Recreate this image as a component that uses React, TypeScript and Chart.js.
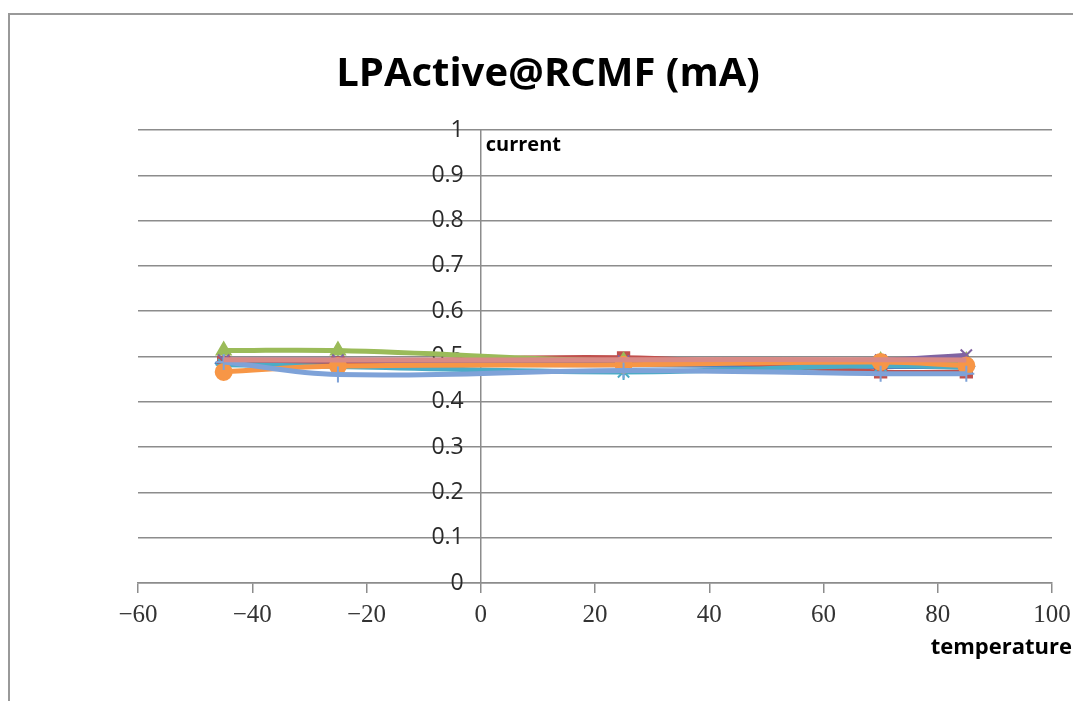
import React, { useEffect, useRef } from "react";
import { Chart, registerables } from "chart.js";

Chart.register(...registerables);

const TITLE = "LPActive@RCMF (mA)";
const X_TITLE = "temperature";
const Y_TITLE = "current";

const temperatures = [-45, -25, 25, 70, 85];

const series1 = [0.485, 0.483, 0.482, 0.478, 0.478];
const series2 = [0.487, 0.486, 0.497, 0.466, 0.466];
const series3 = [0.513, 0.513, 0.49, 0.49, 0.49];
const series4 = [0.492, 0.492, 0.49, 0.492, 0.503];
const series5 = [0.482, 0.478, 0.466, 0.48, 0.476];
const series6 = [0.466, 0.479, 0.482, 0.488, 0.48];
const series7 = [0.488, 0.46, 0.469, 0.462, 0.462];
const series8 = [0.493, 0.492, 0.493, 0.493, 0.492];

const seriesValues = [series1, series2, series3, series4, series5, series6, series7, series8];
const seriesColors = ["#4F81BD", "#C0504D", "#9BBB59", "#8064A2", "#4BACC6", "#F79646", "#7EA2D8", "#D98A86"];
const seriesMarkers: any[] = ["rectRot", "rect", "triangle", "crossRot", "star", "circle", "cross", false];

const xTicks = { min: -60, max: 100, step: 20 };
const yTicks = { min: 0, max: 1, step: 0.1 };

const textPlugin = {
  id: "extraTexts",
  beforeDraw(chart: any) {
    const ys = chart.scales.y;
    const items = ys.getLabelItems(chart.chartArea);
    if (!ys._shifted) {
      items.forEach((it: any) => {
        it.options.translation[0] -= 17;
      });
      ys._shifted = true;
    }
  },
  afterDraw(chart: any) {
    const ctx = chart.ctx;
    const xs = chart.scales.x;
    const ys = chart.scales.y;
    ctx.save();
    ctx.fillStyle = "#000";
    ctx.textBaseline = "alphabetic";
    ctx.font = 'bold 40px "Open Sans"';
    ctx.textAlign = "center";
    ctx.fillText(TITLE, 548, 86);
    ctx.font = 'bold 20px "Open Sans"';
    ctx.textAlign = "left";
    ctx.fillText(Y_TITLE, xs.getPixelForValue(0) + 5, ys.getPixelForValue(1) + 21);
    ctx.font = 'bold 22px "Open Sans"';
    ctx.textAlign = "right";
    ctx.fillText(X_TITLE, 1072, 654);
    ctx.restore();
  },
};

export default function App() {
  const ref = useRef<HTMLCanvasElement | null>(null);
  useEffect(() => {
    if (!ref.current) return;
    const n = seriesValues.length;
    const datasets = seriesValues.map((vals, i) => ({
      label: "S" + (i + 1),
      data: temperatures.map((t, j) => ({ x: t, y: vals[j] })),
      showLine: true,
      tension: 0.4,
      borderColor: seriesColors[i],
      backgroundColor: seriesColors[i],
      borderWidth: 5,
      pointStyle: seriesMarkers[i],
      pointRadius: seriesMarkers[i] ? 8 : 0,
      pointBackgroundColor: seriesColors[i],
      pointBorderColor: seriesColors[i],
      pointBorderWidth: 2,
      order: n - i,
    }));
    const chart = new Chart(ref.current, {
      type: "scatter",
      data: { datasets },
      plugins: [textPlugin],
      options: {
        animation: false,
        responsive: false,
        maintainAspectRatio: false,
        layout: { padding: { left: 138, right: 21, top: 130, bottom: 0 } },
        plugins: { legend: { display: false }, tooltip: { enabled: false }, title: { display: false } },
        scales: {
          x: {
            type: "linear",
            position: "bottom",
            min: xTicks.min,
            max: xTicks.max,
            afterFit: (s: any) => {
              s.height = 118;
              s.paddingLeft = 0;
              s.paddingRight = 0;
            },
            ticks: {
              stepSize: xTicks.step,
              maxRotation: 0,
              padding: 7,
              color: "#333",
              font: { family: '"Liberation Serif"', size: 25 },
              callback: (v: any) => (v < 0 ? "\u2212" + Math.abs(v) : String(v)),
            },
            grid: { drawOnChartArea: false, drawTicks: true, tickLength: 10, color: "#8c8c8c", lineWidth: 1.5 },
            border: { display: true, color: "#8c8c8c", width: 1.5 },
          },
          y: {
            type: "linear",
            position: { x: 0 } as any,
            min: yTicks.min,
            max: yTicks.max,
            ticks: {
              stepSize: yTicks.step,
              padding: 17,
              color: "#2a2a2a",
              font: { family: '"Open Sans"', size: 23 },
              callback: (v: any) => String(Math.round(v * 10) / 10),
            },
            grid: { drawTicks: false, color: "#8c8c8c", lineWidth: 1.5 },
            border: { display: true, color: "#8c8c8c", width: 1.5 },
          },
        },
      } as any,
    });
    return () => chart.destroy();
  }, []);
  return (
    <div style={{ position: "absolute", left: 0, top: 0, width: 1073, height: 701, overflow: "hidden" }}>
      <div
        style={{
          position: "absolute",
          left: 8,
          top: 13,
          width: 1070,
          height: 690,
          borderLeft: "2px solid #999",
          borderTop: "2px solid #999",
        }}
      />
      <canvas ref={ref} width={1073} height={701} style={{ position: "absolute", left: 0, top: 0, width: 1073, height: 701 }} />
    </div>
  );
}
